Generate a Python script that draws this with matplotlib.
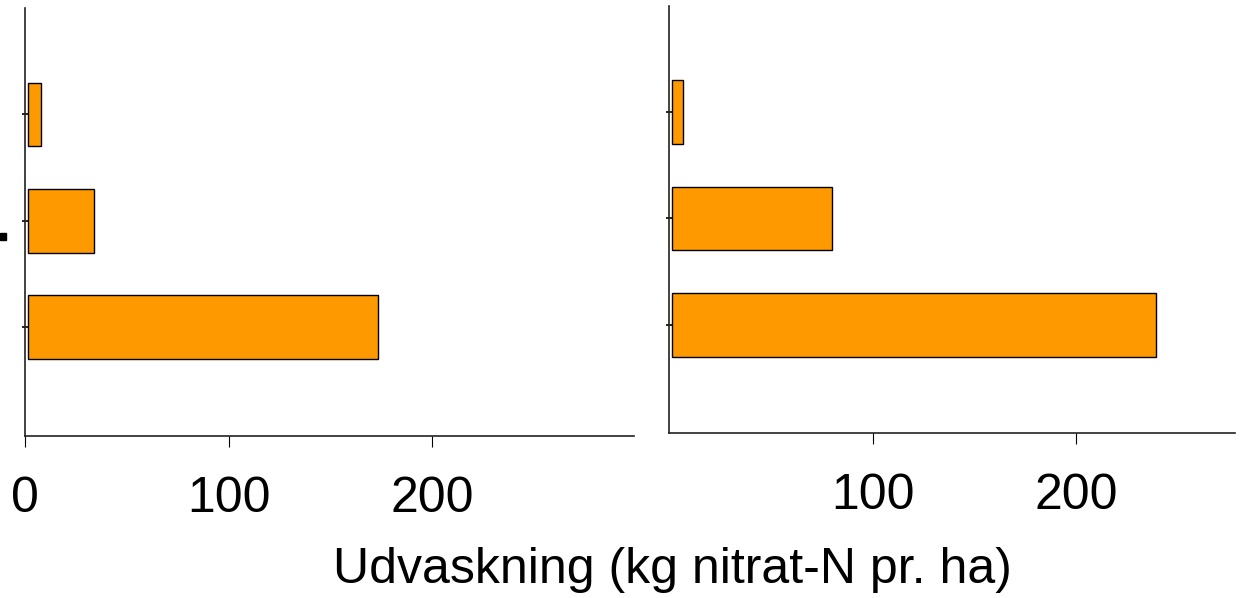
import matplotlib.pyplot as plt
from matplotlib.patches import Rectangle

plt.rcParams["font.family"] = ["Liberation Sans", "DejaVu Sans"]

# Data (top to bottom in each panel)
categories = ["a", "b", "c"]
left_values = [6.5, 32.5, 172]
right_values = [5.5, 78.5, 237.5]

left_ticks = [0, 100, 200]
right_ticks = [100, 200]
xlabel = "Udvaskning (kg nitrat-N pr. ha)"

BAR_COLOUR = "#FF9900"
W, H = 1243, 598

fig = plt.figure(figsize=(W / 100, H / 100), dpi=100)
ax_l = fig.add_axes([25 / W, 1 - 436 / H, 609 / W, 428 / H])
ax_r = fig.add_axes([669 / W, 1 - 433 / H, 566 / W, 427 / H])


def draw(ax, values, ticks, xmax):
    ypos = list(range(len(values)))[::-1]
    # bars sit slightly off the axis line, as in the original
    ax.barh(ypos, values, height=0.6, left=1.5, color=BAR_COLOUR,
            edgecolor="black", linewidth=1.0)
    ax.set_xlim(0, xmax)
    ax.set_ylim(-1.02, len(values) + 0.0)
    ax.set_xticks(ticks)
    ax.set_xticklabels([str(t) for t in ticks], fontsize=36)
    ax.set_yticks(ypos)
    ax.set_yticklabels([])
    ax.tick_params(axis="x", direction="out", length=8, width=0.8, pad=21)
    ax.tick_params(axis="y", direction="inout", length=4, width=1.2)
    for side in ["top", "right"]:
        ax.spines[side].set_visible(False)
    for side in ["left", "bottom"]:
        ax.spines[side].set_linewidth(1.2)
        ax.spines[side].set_color("#222222")


draw(ax_l, left_values, left_ticks, 299)
draw(ax_r, right_values, right_ticks, 278)

fig.text(672 / W, 1 - 570 / H, xlabel, fontsize=36, ha="center", va="center")

# small clipped mark at the left edge
fig.patches.append(Rectangle((0, 1 - 240 / H), 6 / W, 7 / H,
                             transform=fig.transFigure, color="black"))

fig.savefig("out.png", dpi=100)
